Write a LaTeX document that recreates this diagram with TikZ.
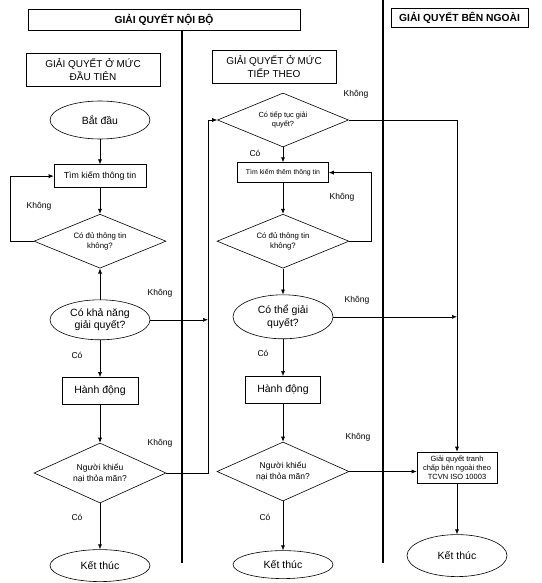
\documentclass[tikz,border=0pt]{standalone}
\usepackage{fontspec}
\setmainfont{Liberation Sans}
\usetikzlibrary{shapes.geometric, positioning, arrows.meta}

\newcommand{\setfs}[2]{\fontsize{#1}{#2}\selectfont}

\begin{document}
\begin{tikzpicture}[x=1pt, y=-1pt, line width=0.6pt,
        box/.style={draw, rectangle, inner sep=1pt, align=center},
        oval/.style={draw, ellipse, inner sep=0pt, minimum width=100pt, align=center, font=\setfs{10.5}{12.5}},
        choice/.style={draw, diamond, aspect=2.4, inner sep=0pt, minimum width=132pt, minimum height=55pt, align=center},
        lbl/.style={font=\setfs{8.5}{10}},
        flow/.style={-{Latex[length=5pt,width=4pt]}},
        lane/.style={line width=1.8pt}]
        \useasboundingbox (0,0) rectangle (541,583);

        % headings
        \node[box, font=\bfseries\setfs{10.3}{12}, minimum width=272pt, minimum height=21pt] (internal) at (164,19.5) {GIẢI QUYẾT NỘI BỘ};
        \node[box, font=\bfseries\setfs{10.3}{12}, minimum width=137pt, minimum height=19pt] (external) at (459.5,17.5) {GIẢI QUYẾT BÊN NGOÀI};
        \node[box, font=\setfs{10}{12.5}, minimum width=134pt, minimum height=33pt] (first) at (93,69.5) {GIẢI QUYẾT Ở MỨC\\ĐẦU TIÊN};
        \node[box, font=\setfs{10}{12.5}, minimum width=124pt, minimum height=33pt] (next) at (274,66.5) {GIẢI QUYẾT Ở MỨC\\TIẾP THEO};

        \draw[lane] (182,30) -- (182,563);
        \draw[lane] (383,0) -- (383,563);

        % first level
        \node[oval, minimum height=38pt] (start1) at (100,120) {Bắt đầu};
        \node[box, below=25pt of start1, font=\setfs{8.8}{10}, minimum width=92pt, minimum height=23pt] (search1) {Tìm kiếm thông tin};
        \node[choice, below=26pt of search1, font=\setfs{7.8}{10}, minimum height=54pt] (enough1) {Có đủ thông tin\\không?};
        \node[oval, below=31pt of enough1, minimum height=40pt] (able1) {Có khả năng\\giải quyết?};
        \node[box, below=37pt of able1, font=\setfs{10.5}{12}, minimum width=76pt, minimum height=27pt] (act1) {Hành động};
        \node[choice, below=38pt of act1, font=\setfs{8.5}{11}, minimum height=60pt] (happy1) {Người khiếu\\nại thỏa mãn?};
        \node[oval, below=46pt of happy1, minimum height=32pt] (end1) {Kết thúc};

        % next level
        \node[choice, font=\setfs{7.4}{9.5}, minimum width=131pt, minimum height=54pt] (cont) at (283,120) {Có tiếp tục giải\\quyết?};
        \node[box, below=15pt of cont, font=\setfs{6.9}{8}, minimum width=91pt, minimum height=20pt] (search2) {Tìm kiếm thêm thông tin};
        \node[choice, below=31pt of search2, font=\setfs{7.8}{10}, minimum height=54pt] (enough2) {Có đủ thông tin\\không?};
        \node[oval, below=26pt of enough2, minimum height=44pt] (able2) {Có thể giải\\quyết?};
        \node[box, below=37pt of able2, font=\setfs{10.5}{12}, minimum width=75pt, minimum height=27pt] (act2) {Hành động};
        \node[choice, below=38pt of act2, font=\setfs{8.5}{11}, minimum height=59pt] (happy2) {Người khiếu\\nại thỏa mãn?};
        \node[oval, below=49pt of happy2, minimum height=28pt] (end2) {Kết thúc};

        % outside
        \node[box, font=\setfs{7.5}{9}, minimum width=80pt, minimum height=31pt] (ext) at (457,467.5) {Giải quyết tranh\\chấp bên ngoài theo\\TCVN ISO 10003};
        \node[oval, below=51pt of ext, minimum height=42pt] (end3) {Kết thúc};

        \coordinate (link) at (208,0);

        \draw[flow] (start1) -- (search1);
        \draw[flow] (search1) -- (enough1);
        \draw[flow] (enough1.west) -- ++(-23,0) |- (search1.west);
        \draw[flow] (able1) -- (enough1);
        \draw[flow] (able1.east) -- (able1.east -| link);
        \draw[flow] (able1) -- (act1);
        \draw[flow] (act1) -- (happy1);
        \draw[flow] (happy1.east) -| (link |- cont.west) -- (cont.west);
        \draw[flow] (happy1) -- (end1);

        \draw[flow] (cont) -- (search2);
        \draw[flow] (cont.east) -| (ext.north);
        \draw[flow] (search2) -- (enough2);
        \draw[flow] (enough2.east) -- ++(22,0) |- (search2.east);
        \draw[flow] (enough2) -- (able2);
        \draw[flow] (able2.east) -- (able2.east -| ext.north);
        \draw[flow] (able2) -- (act2);
        \draw[flow] (act2) -- (happy2);
        \draw[flow] (happy2.east) -- (ext.west |- happy2.east);
        \draw[flow] (happy2) -- (end2);
        \draw[flow] (ext) -- (end3);

        % labels
        \node[lbl] (no1) at (39,206) {Không};
        \node[lbl] (no2) at (160,293) {Không};
        \node[lbl] (yes1) at (77,355) {Có};
        \node[lbl] (no3) at (160,443) {Không};
        \node[lbl] (yes2) at (77,517) {Có};
        \node[lbl] (no4) at (356,94) {Không};
        \node[lbl] (yes3) at (255,153) {Có};
        \node[lbl] (no5) at (342,197) {Không};
        \node[lbl] (no6) at (357,300) {Không};
        \node[lbl] (yes4) at (263,353) {Có};
        \node[lbl] (no7) at (358,437) {Không};
        \node[lbl] (yes5) at (265,517) {Có};
    \end{tikzpicture}
\end{document}
